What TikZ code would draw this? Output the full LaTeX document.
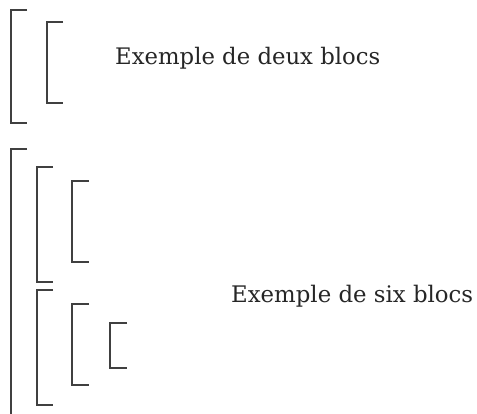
\documentclass[tikz,border=0pt]{standalone}
\usepackage{fontspec}
\setmainfont{DejaVu Serif}
\begin{document}
\begin{tikzpicture}[x=1pt,y=-1pt,
  brk/.style={draw=black!75,line width=1.2pt},
  lbl/.style={anchor=base west,inner sep=0pt,text=black!85}]
\useasboundingbox (0,0) rectangle (477,414);
% group of two
\draw[brk] (27,10) -- (11,10) -- (11,123) -- (27,123);
\draw[brk] (63,22) -- (47,22) -- (47,103) -- (63,103);
\node[lbl] (deux) at (115,65) {\resizebox{265pt}{!}{Exemple de deux blocs}};
% group of six
\draw[brk] (27,149) -- (11,149) -- (11,414);
\draw[brk] (53,167) -- (37,167) -- (37,282) -- (53,282);
\draw[brk] (89,181) -- (72,181) -- (72,262) -- (89,262);
\draw[brk] (53,290) -- (37,290) -- (37,405) -- (53,405);
\draw[brk] (89,304) -- (72,304) -- (72,385) -- (89,385);
\draw[brk] (127,323) -- (110,323) -- (110,368) -- (127,368);
\node[lbl] (six) at (231,303) {\resizebox{242pt}{!}{Exemple de six blocs}};
\end{tikzpicture}
\end{document}
